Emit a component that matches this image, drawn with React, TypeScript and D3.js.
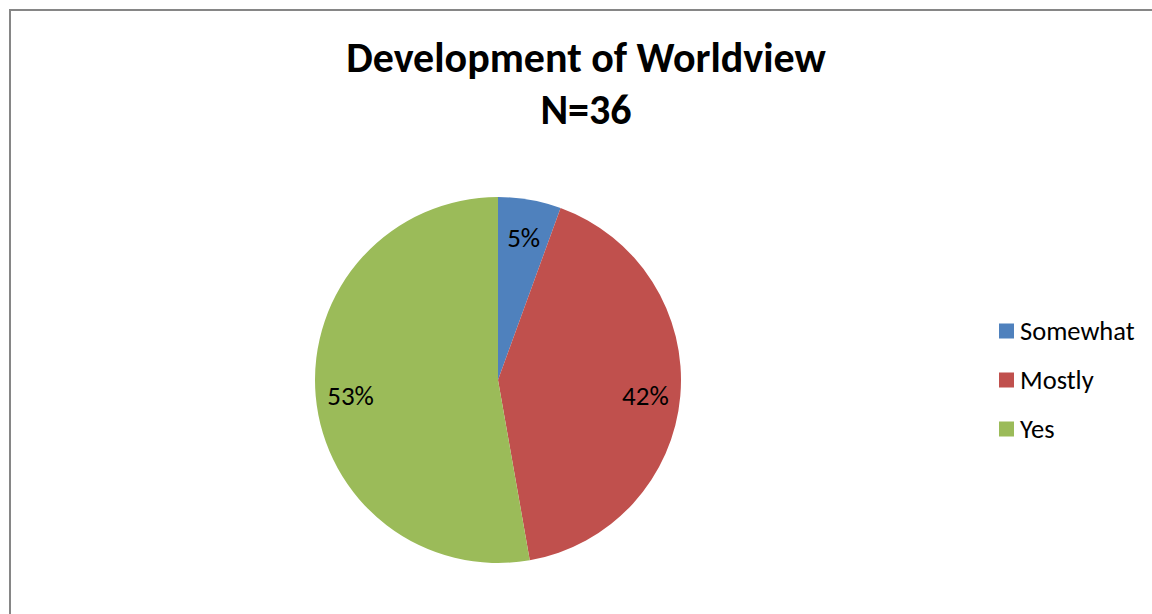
import React from "react";
import * as d3 from "d3";

const categories = ["Somewhat", "Mostly", "Yes"];
const counts = [2, 15, 19];
const labels = ["5%", "42%", "53%"];
const colors = ["#4F81BD", "#C0504D", "#9BBB59"];
const titleLines = ["Development of Worldview", "N=36"];

const W = 1152;
const H = 614;
const cx = 498;
const cy = 380;
const R = 183;
const FONT = "Carlito, Calibri, Lato, 'Open Sans', sans-serif";

export default function App() {
  const pie = d3.pie<number>().sort(null).value((d) => d);
  const arcs = pie(counts);
  const arcGen = d3.arc<d3.PieArcDatum<number>>().innerRadius(0).outerRadius(R);
  const labelArc = d3.arc<d3.PieArcDatum<number>>().innerRadius(148).outerRadius(148);
  const legendY = d3.scalePoint<string>().domain(categories).range([331, 429]);

  return (
    <svg
      width={W}
      height={H}
      style={{ position: "absolute", left: 0, top: 0, background: "#fff" }}
      fontFamily={FONT}
    >
      <rect x={10} y={10} width={W + 10} height={H + 10} fill="#fff" stroke="#868686" strokeWidth={2} />
      {titleLines.map((t, i) => (
        <text
          key={i}
          x={586}
          y={72 + i * 52}
          textAnchor="middle"
          fontSize={42}
          fontWeight="bold"
          fill="#000"
        >
          {t}
        </text>
      ))}
      <g transform={`translate(${cx},${cy})`}>
        {arcs.map((a, i) => (
          <path key={i} d={arcGen(a) || ""} fill={colors[i]} />
        ))}
        {arcs.map((a, i) => {
          const [x, y] = labelArc.centroid(a);
          return (
            <text
              key={"l" + i}
              x={x}
              y={y + 3}
              textAnchor="middle"
              dominantBaseline="central"
              fontSize={27}
              fill="#000"
            >
              {labels[i]}
            </text>
          );
        })}
      </g>
      {categories.map((c, i) => {
        const y = legendY(c) as number;
        return (
          <g key={c}>
            <rect x={999} y={y - 7.5} width={15} height={15} fill={colors[i]} />
            <text x={1020} y={y} dominantBaseline="central" fontSize={26.5} fill="#000">
              {c}
            </text>
          </g>
        );
      })}
    </svg>
  );
}
